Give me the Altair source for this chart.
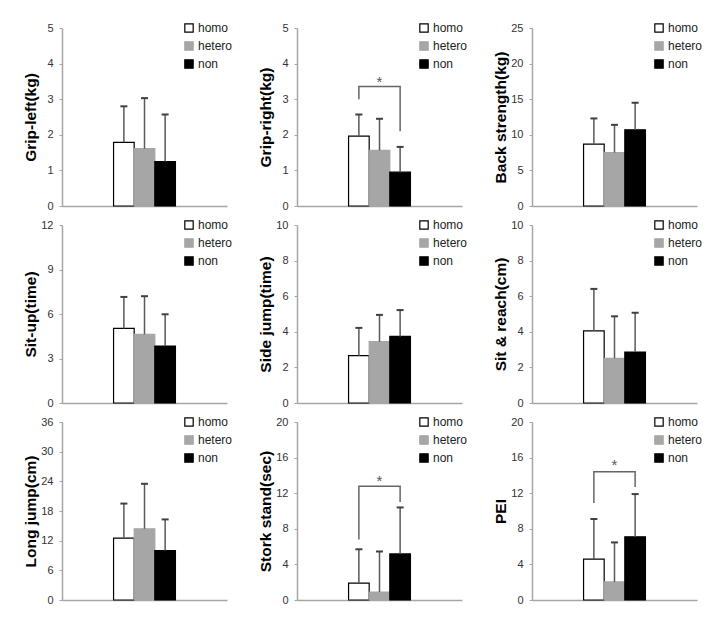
import altair as alt
import pandas as pd

groups = ["homo", "hetero", "non"]
titles = ["Grip-left(kg)", "Grip-right(kg)", "Back  strength(kg)",
          "Sit-up(time)", "Side jump(time)", "Sit  &  reach(cm)",
          "Long jump(cm)", "Stork  stand(sec)", "PEI"]
y_max = [5, 5, 25, 12, 10, 10, 36, 20, 20]
y_step = [1, 1, 5, 3, 2, 2, 6, 4, 4]
means = [
    [1.79, 1.61, 1.25],
    [1.96, 1.56, 0.95],
    [8.7, 7.5, 10.7],
    [5.03, 4.63, 3.84],
    [2.66, 3.45, 3.74],
    [4.05, 2.51, 2.86],
    [12.5, 14.4, 10.0],
    [1.9, 0.9, 5.18],
    [4.6, 2.03, 7.1],
]
upper = [
    [2.80, 3.03, 2.57],
    [2.57, 2.45, 1.66],
    [12.3, 11.4, 14.5],
    [7.15, 7.2, 5.98],
    [4.22, 4.95, 5.22],
    [6.41, 4.87, 5.07],
    [19.5, 23.5, 16.3],
    [5.7, 5.45, 10.4],
    [9.1, 6.47, 11.9],
]
sig_panels = [1, 7, 8]
sig_top = [3.36, 12.77, 14.4]
sig_left = [3.0, 6.8, 10.9]
sig_right = [2.1, 11.0, 12.7]
sig_star = [3.56, 13.7, 15.5]

fill_range = ["white", "#A6A6A6", "black"]
stroke_range = ["black", "#A6A6A6", "black"]

W, H = 165, 178


def panel(i):
    df = pd.DataFrame({"group": groups, "idx": list(range(len(groups))),
                       "mean": means[i], "upper": upper[i]})
    ticks = list(range(0, y_max[i] + 1, y_step[i]))
    xscale = alt.Scale(domain=[-3, 5], nice=False, zero=False)
    xaxis = alt.Axis(labels=False, ticks=False, title=None, grid=False,
                     domainColor="#A6A6A6", domainWidth=1.5,
                     minExtent=0, maxExtent=0)
    yscale = alt.Scale(domain=[0, y_max[i]], nice=False)
    yaxis = alt.Axis(values=ticks, title=titles[i], grid=False, tickSize=3,
                     labelPadding=6, minExtent=22, maxExtent=22, titlePadding=2,
                     domainColor="#A6A6A6", domainWidth=1.5, tickColor="#A6A6A6",
                     labelColor="#333333", labelFontSize=11,
                     titleFontSize=15.5, titleFontWeight="bold", titleColor="black")
    leg = alt.Legend(title=None, orient="top-right", offset=-6, symbolType="square",
                     symbolSize=70, symbolStrokeWidth=1.2, labelFontSize=12,
                     labelColor="#222222", rowPadding=4, padding=0, labelOffset=3)
    base = alt.Chart(df).transform_calculate(
        x0="datum.idx - 0.5", x1="datum.idx + 0.5",
        c0="datum.idx - 0.17", c1="datum.idx + 0.17")
    bars = base.mark_bar(strokeWidth=1.2).encode(
        x=alt.X("x0:Q", scale=xscale, axis=xaxis),
        x2="x1:Q",
        y=alt.Y("mean:Q", scale=yscale, axis=yaxis),
        y2=alt.datum(0),
        fill=alt.Fill("group:N", sort=groups,
                      scale=alt.Scale(domain=groups, range=fill_range), legend=leg),
        stroke=alt.Stroke("group:N", sort=groups,
                          scale=alt.Scale(domain=groups, range=stroke_range), legend=leg),
    )
    err = base.mark_rule(color="#595959", strokeWidth=1.5).encode(
        x=alt.X("idx:Q", scale=xscale, axis=xaxis),
        y=alt.Y("mean:Q", scale=yscale, axis=yaxis), y2="upper:Q")
    cap = base.mark_rule(color="#404040", strokeWidth=2).encode(
        x=alt.X("c0:Q", scale=xscale, axis=xaxis), x2="c1:Q",
        y=alt.Y("upper:Q", scale=yscale, axis=yaxis))
    layers = [bars, err, cap]
    if i in sig_panels:
        k = sig_panels.index(i)
        bdf = pd.DataFrame({"idx": [0, 0, 2, 2],
                            "v": [sig_left[k], sig_top[k], sig_top[k], sig_right[k]],
                            "o": [0, 1, 2, 3]})
        line = alt.Chart(bdf).mark_line(color="#666666", strokeWidth=1.5).encode(
            x=alt.X("idx:Q", scale=xscale, axis=xaxis),
            y=alt.Y("v:Q", scale=yscale, axis=yaxis), order="o:Q")
        sdf = pd.DataFrame({"idx": [1], "v": [sig_star[k]]})
        star = alt.Chart(sdf).mark_text(text="*", fontSize=15, color="#555555",
                                        baseline="middle", dy=3).encode(
            x=alt.X("idx:Q", scale=xscale, axis=xaxis),
            y=alt.Y("v:Q", scale=yscale, axis=yaxis))
        layers += [line, star]
    return alt.layer(*layers).properties(width=W, height=H)


rows = []
for r in range(3):
    row = alt.hconcat(*[panel(3 * r + c) for c in range(3)], spacing=23).resolve_scale(
        fill="independent", stroke="independent", y="independent", x="independent")
    rows.append(row)

chart = alt.vconcat(*rows, spacing=6).resolve_scale(
    fill="independent", stroke="independent", y="independent", x="independent"
).properties(
    padding={"left": 14, "top": 13, "right": 5, "bottom": 5}
).configure_view(stroke="transparent").configure_axis(
    labelFont="Liberation Sans", titleFont="Liberation Sans"
).configure_legend(labelFont="Liberation Sans").configure_text(font="Liberation Sans")

chart.save("out.html", embed_options={"renderer": "svg", "actions": False})
